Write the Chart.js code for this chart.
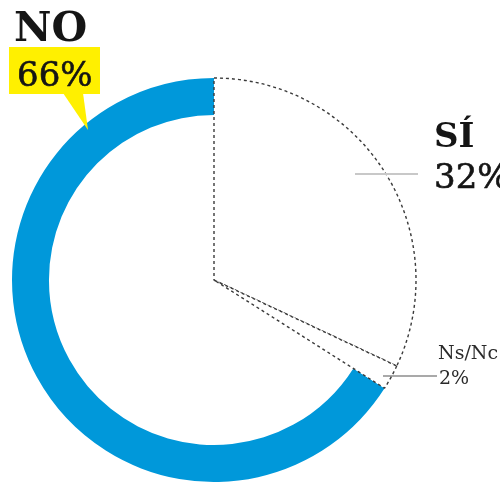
<!DOCTYPE html>
<html>
<head>
<meta charset="utf-8">
<script src="https://cdn.jsdelivr.net/npm/chart.js@4.4.1/dist/chart.umd.min.js"></script>
<style>
  html, body { margin: 0; padding: 0; background: #fff; }
  #wrap { position: relative; width: 500px; height: 482px; overflow: hidden; }
  canvas { position: absolute; left: 0; top: 0; }
  .lbl { position: absolute; font-family: "DejaVu Serif", serif; line-height: 1; color: #151515; white-space: nowrap; }
  .pct { -webkit-text-stroke: 0.6px #151515; }
</style>
</head>
<body>
<div id="wrap">
  <canvas id="ringChart" width="500" height="482"></canvas>
  <canvas id="pieChart" width="500" height="482"></canvas>
  <div class="lbl" style="left:14px; top:7px; font-size:41px; font-weight:bold;">NO</div>
  <div class="lbl pct" style="left:17px; top:57px; font-size:34px;">66%</div>
  <div class="lbl" style="left:434px; top:118px; font-size:34px; font-weight:bold;">SÍ</div>
  <div class="lbl pct" style="left:434px; top:159px; font-size:34px;">32%</div>
  <div class="lbl" style="left:438px; top:343px; font-size:19px; color:#2a2a2a;">Ns/Nc</div>
  <div class="lbl" style="left:439px; top:368px; font-size:19px; color:#2a2a2a;">2%</div>
</div>
<script>
const labels = ['SÍ', 'Ns/Nc', 'NO'];
const values = [32, 2, 66];
const ringColors = ['rgba(0,0,0,0)', 'rgba(0,0,0,0)', '#0098da'];
const sliceFills = ['#ffffff', '#ffffff', 'rgba(0,0,0,0)'];
const sliceBorders = [1.4, 1.4, 0];

const pad = { left: 0, right: 72, top: 78, bottom: 0 };

// leader lines and the yellow callout behind "66%"
const callouts = {
    id: 'callouts',
    afterDraw(chart) {
        const ctx = chart.ctx;
        ctx.save();
        ctx.fillStyle = '#fff000';
        ctx.fillRect(9, 47, 91, 47);
        ctx.beginPath();
        ctx.moveTo(63, 93);
        ctx.lineTo(83, 93);
        ctx.lineTo(88, 130);
        ctx.closePath();
        ctx.fill();

        ctx.strokeStyle = '#c8c8c8';
        ctx.lineWidth = 2;
        ctx.beginPath();
        ctx.moveTo(355, 174);
        ctx.lineTo(418, 174);
        ctx.stroke();

        ctx.strokeStyle = '#555';
        ctx.lineWidth = 1.2;
        ctx.beginPath();
        ctx.moveTo(383, 376);
        ctx.lineTo(437, 376);
        ctx.stroke();
        ctx.restore();
    }
};

const common = {
    responsive: false,
    animation: false,
    events: [],
    radius: 202,
    layout: { padding: pad },
    plugins: { legend: { display: false }, tooltip: { enabled: false } }
};

new Chart(document.getElementById('ringChart'), {
    type: 'doughnut',
    data: {
        labels: labels,
        datasets: [{
            data: values,
            backgroundColor: ringColors,
            borderWidth: 0
        }]
    },
    options: Object.assign({}, common, { cutout: '81.7%' })
});

new Chart(document.getElementById('pieChart'), {
    type: 'pie',
    data: {
        labels: labels,
        datasets: [{
            data: values,
            backgroundColor: sliceFills,
            borderColor: '#3a3a3a',
            borderWidth: sliceBorders,
            borderDash: [3, 3]
        }]
    },
    options: common,
    plugins: [callouts]
});
</script>
</body>
</html>
